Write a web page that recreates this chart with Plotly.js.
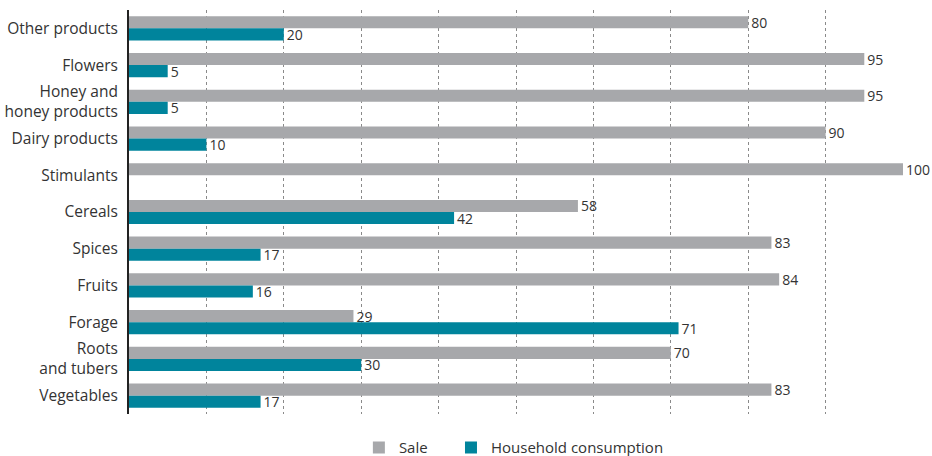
<!DOCTYPE html>
<html>
<head>
<meta charset="utf-8">
<script src="https://cdn.plot.ly/plotly-3.0.1.min.js"></script>
<style>html,body{margin:0;padding:0;background:#fff;}#chart{width:932px;height:456px;}</style>
</head>
<body>
<div id="chart"></div>
<script>
const categories = ["Other products","Flowers","Honey and<br>honey products","Dairy products","Stimulants","Cereals","Spices","Fruits","Forage","Roots<br>and tubers","Vegetables"];
const saleValues = [80,95,95,90,100,58,83,84,29,70,83];
const householdValues = [20,5,5,10,0,42,17,16,71,30,17];
const seriesNames = ["Sale","Household consumption"];

const font = "'Open Sans', 'Noto Sans', sans-serif";
const labelText = v => v ? String(v) : "";

const traces = [
  {type:"bar", orientation:"h", name:seriesNames[0], legend:"legend", y:categories, x:saleValues,
   marker:{color:"#A7A8AB"}, text:saleValues.map(labelText), textposition:"outside",
   constraintext:"none",
   textfont:{family:font,size:14,color:"#333"}, cliponaxis:false, hoverinfo:"none"},
  {type:"bar", orientation:"h", name:seriesNames[1], legend:"legend2", y:categories, x:householdValues,
   marker:{color:"#00849C"}, text:householdValues.map(labelText), textposition:"outside",
   constraintext:"none",
   textfont:{family:font,size:14,color:"#333"}, cliponaxis:false, hoverinfo:"none"}
];

const legendBase = {orientation:"h", xanchor:"left", yref:"container", y:0.018, yanchor:"middle",
                    font:{family:font,size:15,color:"#333"}};

const layout = {
  width:932, height:456,
  margin:{l:129,r:29,t:10,b:42},
  paper_bgcolor:"#fff", plot_bgcolor:"#fff",
  barmode:"group", bargap:0.34, bargroupgap:0,
  font:{family:font,size:14,color:"#333"},
  xaxis:{range:[0,100], dtick:10, tick0:0, showticklabels:false, ticks:"",
         showgrid:true, gridcolor:"#8a8a8a", griddash:"dot", gridwidth:1,
         zeroline:false, showline:false},
  yaxis:{autorange:"reversed", showline:true, linecolor:"#222", linewidth:2,
         ticks:"", showgrid:false, zeroline:false, ticklabelstandoff:6,
         tickfont:{family:font,size:15.5,color:"#333"}},
  showlegend:true,
  legend:Object.assign({x:0.297}, legendBase),
  legend2:Object.assign({x:0.416}, legendBase)
};

Plotly.newPlot("chart", traces, layout, {displayModeBar:false, staticPlot:true});
</script>
</body>
</html>
